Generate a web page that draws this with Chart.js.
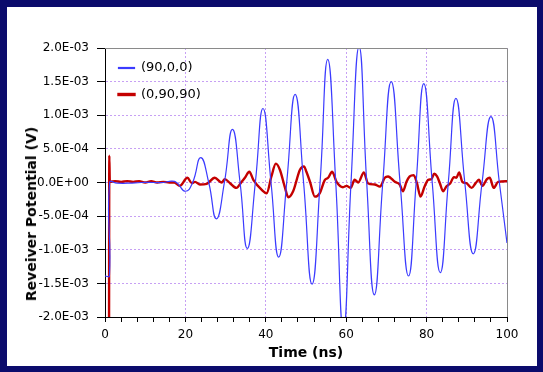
<!DOCTYPE html>
<html>
<head>
<meta charset="utf-8">
<script src="https://cdn.jsdelivr.net/npm/chart.js@4"></script>
<style>
  html, body { margin: 0; padding: 0; background: #0b0b6c; }
  #wrap { position: relative; width: 543px; height: 372px; overflow: hidden; }
  #panel { position: absolute; left: 7px; top: 7px; width: 530px; height: 359px; background: #fff; }
  #chart { position: absolute; left: 0; top: 0; }
  #ytitle {
    position: absolute; left: 31px; top: 214px;
    transform: translate(-50%, -50%) rotate(-90deg);
    font: bold 14px "DejaVu Sans"; color: #000; white-space: nowrap;
  }
</style>
</head>
<body>
<div id="wrap">
  <div id="panel"></div>
  <canvas id="chart" width="543" height="372"></canvas>
  <div id="ytitle">Reveiver Potential (V)</div>
</div>
<script>
// series (time in ns, potential in mV -> converted to V below)
const blueLabel = "(90,0,0)";
const blueTime = [0, 1.1, 1.15, 3, 6, 9, 12, 14.5, 16.5, 17.8, 20.0, 21.8, 23.8, 25.8, 27.7, 29.7, 31.7, 33.6, 35.4, 37.4,
  39.3, 41.3, 43.2, 45.2, 47.3, 49.4, 51.5, 53.5, 55.4, 57.4, 59.3, 61.2, 63.2, 65.1, 67.0, 69.1, 71.2, 73.4,
  75.5, 77.4, 79.3, 81.4, 83.4, 85.4, 87.3, 89.5, 91.6, 93.8, 96.0, 98.1, 100];
const blueMv = [-1.39, -1.39, 0, -0.01, -0.01, 0, 0, 0, 0.02, 0, -0.13, 0, 0.37, 0, -0.54, 0, 0.79, 0, -0.98, 0,
  1.10, 0, -1.11, 0, 1.31, 0, -1.51, 0, 1.83, 0, -2.2, 0, 2.02, 0, -1.67, 0, 1.50, 0,
  -1.39, 0, 1.47, 0, -1.34, 0, 1.25, 0, -1.06, 0, 0.98, 0, -0.9];

const redLabel = "(0,90,90)";
const redTime = [1.0, 1.07, 1.2, 2.5, 4, 5.5, 7, 8.5, 10, 11.5, 13, 14.5, 16, 17.2, 18.6, 20.5, 21.6, 22.4, 23.6, 25.3,
  27.3, 29.0, 29.8, 31.1, 32.7, 34.0, 34.8, 35.9, 36.9, 39.0, 40.2, 41.4, 42.5, 43.5, 44.7, 45.6, 46.8, 48.5,
  49.5, 50.1, 51.0, 52.2, 53.4, 54.7, 55.5, 56.5, 57.6, 59.2, 60.1, 61.1, 62.1, 63.0, 64.4, 65.4, 67.1, 68.4,
  69.6, 70.4, 72.1, 73.3, 74.1, 75.0, 75.8, 76.8, 77.6, 78.5, 79.5, 80.4, 81.2, 81.9, 82.6, 83.3, 84.1, 84.9,
  85.9, 86.8, 87.4, 88.1, 88.9, 89.9, 91.2, 92.2, 93.0, 93.9, 95.0, 95.7, 96.7, 97.8, 100];
const redMv = [-2.6, 0.40, 0.01, 0.02, 0.01, 0.02, 0.01, 0.02, 0, 0.02, 0, 0.01, 0, 0, -0.05, 0.07, -0.01, 0.01, -0.03, -0.02,
  0.07, 0, 0.05, -0.01, -0.08, 0.01, 0.07, 0.16, 0.04, -0.11, -0.16, 0.09, 0.28, 0.19, -0.06, -0.22, -0.13, 0.19,
  0.24, 0.16, 0.01, -0.21, -0.16, 0.04, 0.07, 0.16, 0.01, -0.07, -0.05, -0.08, 0.04, 0, 0.15, -0.01, -0.03, -0.06,
  0.07, 0.09, 0.01, -0.03, -0.13, 0.01, 0.09, 0.11, -0.01, -0.21, -0.06, 0.04, 0.05, 0.13, 0.09, -0.01, -0.13, -0.06,
  -0.01, 0.08, 0.07, 0.15, 0.01, -0.01, -0.08, -0.01, 0.04, -0.05, 0.05, 0.07, -0.08, 0.01, 0.02];

// axes
const xMin = 0, xMax = 100, xMinorStep = 4, xLabelStep = 20;
const yMin = -2.0e-3, yMax = 2.0e-3, yStep = 5.0e-4;

const gridPurple = "#c7a0f4";

function toPoints(ts, vs) {
  return ts.map((t, i) => ({ x: t, y: vs[i] * 1e-3 }));
}

function sciLabel(v) {
  if (Math.abs(v) < 1e-12) return "0.0E+00";
  const parts = v.toExponential(1).split("e");
  const e = parseInt(parts[1], 10);
  return parts[0] + "E" + (e < 0 ? "-" : "+") + String(Math.abs(e)).padStart(2, "0");
}

// grey frame on top and right of the plot
const frame = {
  id: "frame",
  afterDraw(chart) {
    const { ctx, chartArea: a } = chart;
    ctx.save();
    ctx.strokeStyle = "#8a8a8a";
    ctx.lineWidth = 1;
    ctx.beginPath();
    ctx.moveTo(a.left, a.top + 0.5);
    ctx.lineTo(a.right + 0.5, a.top + 0.5);
    ctx.lineTo(a.right + 0.5, a.bottom);
    ctx.stroke();
    ctx.restore();
  }
};

// vertical legend resets its top to 0, move it back inside the plot
const legendInside = {
  id: "legendInside",
  afterLayout(chart) {
    const lg = chart.legend;
    if (!lg) return;
    const dy = chart.chartArea.top;
    lg.top += dy;
    lg.bottom += dy;
  }
};

Chart.defaults.font.family = "DejaVu Sans";
Chart.defaults.color = "#000";

new Chart(document.getElementById("chart"), {
  type: "line",
  data: {
    datasets: [
      {
        label: blueLabel,
        data: toPoints(blueTime, blueMv),
        borderColor: "#3b3bff",
        backgroundColor: "#3b3bff",
        borderWidth: 1.2,
        pointRadius: 0,
        tension: 0.5,
        fill: false
      },
      {
        label: redLabel,
        data: toPoints(redTime, redMv),
        borderColor: "#c40000",
        backgroundColor: "#c40000",
        borderWidth: 2.4,
        pointRadius: 0,
        cubicInterpolationMode: "monotone",
        fill: false
      }
    ]
  },
  options: {
    responsive: false,
    animation: false,
    events: [],
    layout: { padding: { left: 0, right: 36, top: 48, bottom: 0 } },
    plugins: {
      tooltip: { enabled: false },
      legend: {
        position: "chartArea",
        align: "start",
        labels: {
          font: { size: 13 },
          boxWidth: 16,
          boxHeight: 1,
          padding: 13.5
        }
      }
    },
    scales: {
      x: {
        type: "linear",
        min: xMin, max: xMax,
        afterFit: s => { s.height = 55; },
        ticks: {
          stepSize: xMinorStep,
          autoSkip: false,
          maxRotation: 0,
          padding: 6,
          font: { size: 12 },
          callback: v => (v % xLabelStep === 0 ? String(v) : "")
        },
        grid: {
          color: c => (c.tick && c.tick.value % xLabelStep === 0 ? gridPurple : "rgba(0,0,0,0)"),
          tickColor: "#000",
          tickLength: 5,
          tickBorderDash: []
        },
        border: { color: "#000", width: 1, dash: [2, 2] },
        title: {
          display: true,
          text: "Time (ns)",
          font: { size: 14, weight: "bold" },
          padding: { top: 0, bottom: 10 }
        }
      },
      y: {
        type: "linear",
        min: yMin, max: yMax,
        afterFit: s => { s.width = 105; },
        ticks: {
          stepSize: yStep,
          padding: 8,
          font: { size: 12 },
          callback: v => sciLabel(v)
        },
        grid: {
          color: gridPurple,
          tickColor: "#000",
          tickLength: 8,
          tickBorderDash: []
        },
        border: { color: "#000", width: 1, dash: [2, 2] }
      }
    }
  },
  plugins: [frame, legendInside]
});
</script>
</body>
</html>
